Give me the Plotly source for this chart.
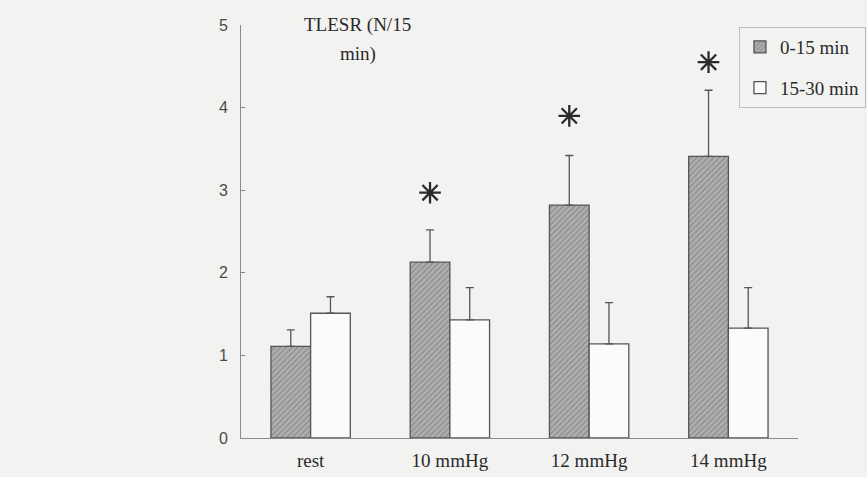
import plotly.graph_objects as go

categories = ["rest", "10 mmHg", "12 mmHg", "14 mmHg"]
early_vals = [1.11, 2.13, 2.82, 3.41]
early_err = [0.20, 0.39, 0.60, 0.80]
late_vals = [1.51, 1.43, 1.14, 1.33]
late_err = [0.20, 0.39, 0.50, 0.49]
star_y = [None, 2.97, 3.90, 4.55]
series_names = ["0-15 min", "15-30 min"]
y_ticks = [0, 1, 2, 3, 4, 5]
title_lines = ["TLESR (N/15", "min)"]

SERIF = "Liberation Serif, Times New Roman, serif"
BG = "#f2f2f1"
INK = "#2a2a2a"
LINE = "#555555"

fig = go.Figure()
fig.add_trace(go.Bar(
    x=categories, y=early_vals, name=series_names[0], offsetgroup="a",
    legendgroup="a",
    marker=dict(color="#b0b0b0", line=dict(color=LINE, width=1.3),
                pattern=dict(shape="/", fgcolor="#6a6a6a", bgcolor="#b0b0b0",
                             size=4, solidity=0.35)),
    error_y=dict(type="data", array=early_err, arrayminus=[0]*4, symmetric=False,
                 color=LINE, thickness=1.3, width=4),
))
fig.add_trace(go.Bar(
    x=categories, y=late_vals, name=series_names[1], offsetgroup="b",
    legendgroup="b",
    marker=dict(color="#fbfbfb", line=dict(color=LINE, width=1.3)),
    error_y=dict(type="data", array=late_err, arrayminus=[0]*4, symmetric=False,
                 color=LINE, thickness=1.3, width=4),
))
fig.add_trace(go.Scatter(
    x=categories, y=star_y, mode="markers", offsetgroup="a", showlegend=False,
    marker=dict(symbol="asterisk-open", size=18, color=INK,
                line=dict(color=INK, width=2.3)),
    hoverinfo="skip",
))
fig.add_trace(go.Scatter(
    x=categories, y=[None]*4, mode="markers", offsetgroup="b", showlegend=False,
    marker=dict(size=1, color=BG), hoverinfo="skip",
))

fig.update_layout(
    width=867, height=477,
    margin=dict(l=241, r=69, t=25, b=39, autoexpand=False),
    paper_bgcolor=BG, plot_bgcolor=BG,
    barmode="group", bargap=0.43, bargroupgap=0,
    scattermode="group", scattergap=0.43,
    showlegend=True,
    legend=dict(x=1.122, y=0.995, xanchor="right", yanchor="top",
                bgcolor=BG, bordercolor="#bdbdbd", borderwidth=1,
                font=dict(family=SERIF, size=19, color=INK),
                traceorder="grouped", tracegroupgap=13),
    xaxis=dict(range=[-0.5, 3.5], showline=True, linecolor="#8a8a8a", linewidth=1,
               ticks="", showgrid=False, zeroline=False, ticklabelstandoff=5,
               automargin=False,
               tickfont=dict(family=SERIF, size=19, color=INK)),
    yaxis=dict(range=[0, 5], tickvals=y_ticks, showline=True, linecolor="#8a8a8a",
               linewidth=1, ticks="inside", ticklen=4, tickcolor="#8a8a8a",
               showgrid=False, zeroline=False, ticklabelstandoff=9,
               automargin=False,
               tickfont=dict(family="Liberation Sans, Arial, sans-serif", size=16,
                             color="#4a4a4a")),
    annotations=[
        dict(text=title_lines[0], xref="paper", yref="paper",
             x=0.210, y=1.0, xanchor="center", yanchor="middle",
             showarrow=False, font=dict(family=SERIF, size=19, color=INK)),
        dict(text=title_lines[1], xref="paper", yref="paper",
             x=0.210, y=0.93, xanchor="center", yanchor="middle",
             showarrow=False, font=dict(family=SERIF, size=19, color=INK)),
    ],
)

fig.write_html("out.html", config={"displayModeBar": False},
               post_script="document.body.style.margin='0';"
                           "document.body.style.background='#f2f2f1';")
